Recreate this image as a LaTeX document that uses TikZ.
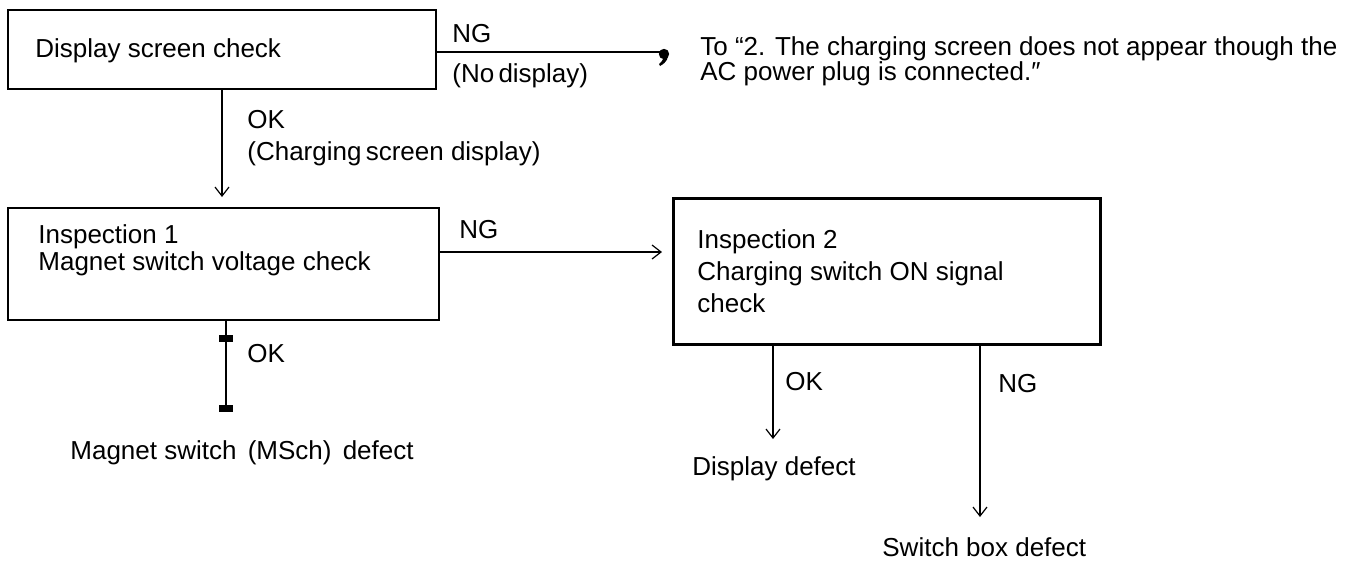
\documentclass[tikz,border=0pt]{standalone}
\usepackage{fontspec}
\setmainfont{Liberation Sans}
\usetikzlibrary{arrows.meta}
\begin{document}
\begin{tikzpicture}[x=0.5pt,y=-0.5pt,
  box/.style={draw, line width=1pt, inner sep=0pt, anchor=north west},
  txt/.style={anchor=base west, inner sep=0pt, font=\fontsize{13}{15}\selectfont},
  conn/.style={line width=0.6pt},
  arr/.style={conn, -{Straight Barb[length=4.5pt,width=7pt]}},
]
\useasboundingbox (0,0) rectangle (1346,569);
\fill[white] (0,0) rectangle (1346,569);

% boxes
\node[box, minimum width=214pt, minimum height=39.5pt] (b1) at (7,9) {};
\node[box, minimum width=215.5pt, minimum height=56pt] (in1) at (7,207) {};
\node[box, line width=1.4pt, minimum width=213.5pt, minimum height=73pt] (in2) at (672,197) {};

% helper coordinates
\coordinate (y52) at (0,52);
\coordinate (y252) at (0,252);
\coordinate (ngend) at (666,52);
\coordinate (tb) at (226,412);
\coordinate (okend) at (773,439);
\coordinate (ngend2) at (980,517);

% texts
\node[txt] (t1) at (35,57) {Display screen check};
\node[txt] (ng1) at (452,42) {NG};
\node[txt] (nd) at (452,82) {(No\hspace{-1.5pt} display)};
\node[txt] (to1) at (700,55) {To “2. The charging screen does not appear though the};
\node[txt] (to2) at (700,80) {AC power plug is connected.″};
\node[txt] (ok1) at (247,128) {OK};
\node[txt] (ok1b) at (247,160) {(Charging\hspace{-1.5pt} screen display)};
\node[txt] (in1a) at (38,243) {Inspection 1};
\node[txt] (in1b) at (38,270) {Magnet switch voltage check};
\node[txt] (ng2) at (459,238) {NG};
\node[txt] (in2a) at (697,248) {Inspection 2};
\node[txt] (in2b) at (697,280) {Charging switch ON signal};
\node[txt] (in2c) at (697,312) {check};
\node[txt] (ok2) at (247,362) {OK};
\node[txt] (ms) at (70,459) {Magnet switch\hspace{2pt} (MSch)\hspace{2pt} defect};
\node[txt] (ok3) at (785,390) {OK};
\node[txt] (ng3) at (998,392) {NG};
\node[txt] (dd) at (692,475) {Display defect};
\node[txt] (sb) at (882,556) {Switch box defect};

% connectors
\draw[conn] (b1.east |- y52) -- (ngend);
\fill (ngend) ++(-2,2) circle[radius=2.6pt];
\fill (666,50) .. controls (670,58) and (667,62) .. (660,66) -- (659,64) .. controls (663,61) and (664,58) .. (662,55) -- cycle;

\draw[arr, shorten >=5pt] (b1.south) -- (b1.south |- in1.north);
\draw[arr, shorten >=5pt] (in1.east |- y252) -- (in2.west |- y252);

\draw[conn] (in1.south -| tb) -- (226,336);
\draw[line width=0.9pt] (226,340) -- (tb);
\fill (219,335) rectangle (233,342);
\fill (219,405) rectangle (233,412);

\draw[arr] (in2.south -| okend) -- (okend);
\draw[arr] (in2.south -| ngend2) -- (ngend2);
\end{tikzpicture}
\end{document}
